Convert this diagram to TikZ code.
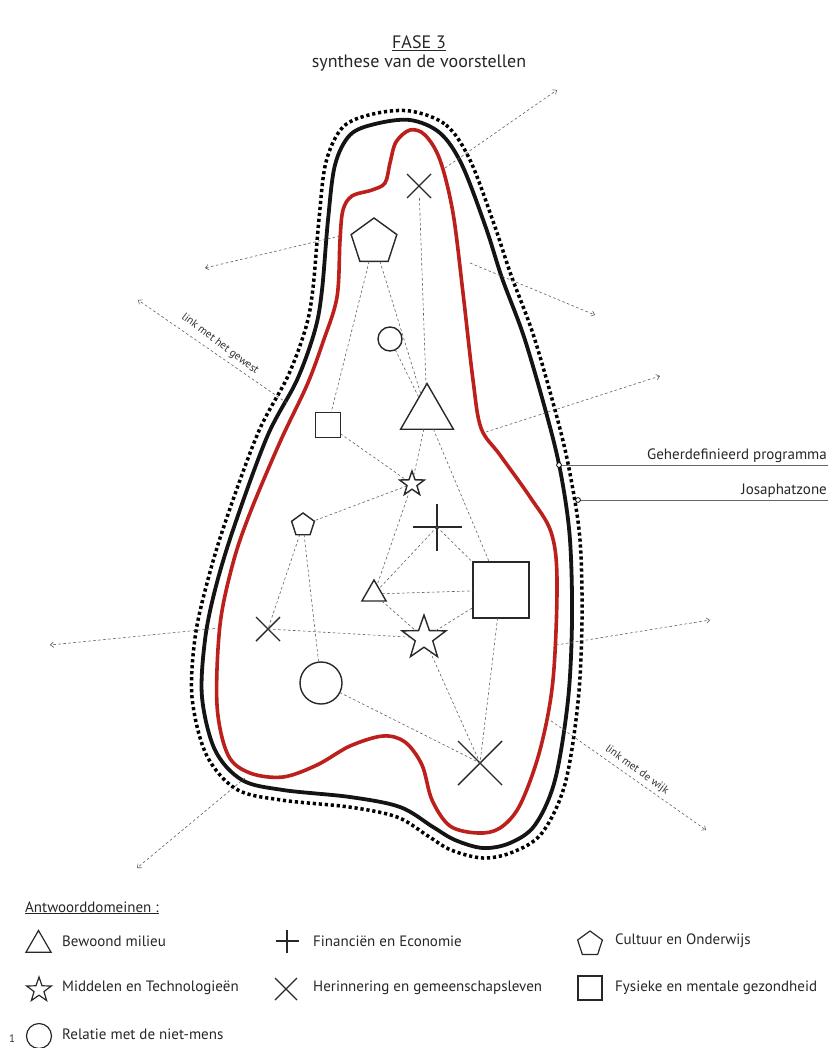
\documentclass[tikz,border=0pt]{standalone}
\usepackage{fontspec}
\setmainfont{PT Sans}
\usetikzlibrary{shapes.geometric,shapes.misc,arrows.meta}
\definecolor{myred}{RGB}{188,32,28}
\definecolor{symcol}{RGB}{40,40,40}
\definecolor{linkcol}{RGB}{95,95,95}
\begin{document}
\begin{tikzpicture}[x=1pt,y=-1pt,
  sym/.style={draw=symcol, line width=1.4pt, inner sep=0pt, outer sep=0pt},
  tri/.style={sym, regular polygon, regular polygon sides=3},
  pent/.style={sym, regular polygon, regular polygon sides=5},
  starsym/.style={sym, star, star points=5, star point ratio=2.5},
  sq/.style={sym, rectangle},
  circ/.style={sym, circle},
  xsym/.style={sym, cross out},
  plussym/.style={inner sep=0pt, outer sep=0pt},
  plusline/.style={draw=symcol, line width=1.4pt},
  link/.style={draw=linkcol, line width=0.6pt, dash pattern=on 2.6pt off 2.4pt},
  arr/.style={link, -{Straight Barb[length=3.2pt,width=5.5pt]}},
  blackline/.style={draw=black!92, line width=3.8pt},
  redline/.style={draw=myred, line width=3.6pt},
  dotline/.style={draw=black, line width=3.5pt, dash pattern=on 3.2pt off 2.8pt},
  lbl/.style={font=\fontsize{15}{17}\selectfont, text=black!85, inner sep=0pt},
  small/.style={font=\fontsize{11}{13}\selectfont, text=black!80, inner sep=0pt},
  legline/.style={draw=black!60, line width=0.8pt}
]
\useasboundingbox (0,0) rectangle (830,1048);

% title
\node[font=\fontsize{18}{20}\selectfont, text=black!85] (t1) at (419,43) {\underline{FASE 3}};
\node[font=\fontsize{18}{20}\selectfont, text=black!85] (t2) at (419,63) {synthese van de voorstellen};

% outlines
\draw[dotline] plot[smooth cycle, tension=0.55] coordinates {
(410,111) (446,125) (470,160) (494,224) (511,275) (534,337) (559,425) (571,479) (580,540) (582,620) (578,702) (565,784) (542,833) (513,852) (483,858) (451,850) (428,836) (397,817) (349,807) (281,800) (236,789) (206,754) (192,697) (195,638) (206,587) (224,526) (258,433) (288,376) (306,327) (313,288) (319,219) (326,162) (343,127) (373,114)};
\draw[blackline] plot[smooth cycle, tension=0.55] coordinates {
(410,120) (440,133) (462,165) (486,228) (502,278) (525,340) (550,427) (562,480) (570,540) (572,620) (568,700) (555,780) (535,825) (510,843) (483,848) (455,840) (433,827) (400,807) (350,797) (283,790) (242,780) (215,750) (202,697) (205,640) (215,590) (233,530) (267,437) (297,380) (315,330) (322,290) (328,220) (335,165) (350,135) (375,124)};
\draw[redline] plot[smooth cycle, tension=0.55] coordinates {
(410,130) (425,135) (440,160) (453,213) (463,293) (473,380) (481,428) (500,455) (530,497) (551,532) (557,580) (553,680) (540,750) (520,805) (500,828) (478,833) (450,826) (432,800) (422,765) (405,742) (383,736) (350,746) (317,765) (283,777) (250,773) (228,755) (217,705) (220,625) (233,563) (250,513) (280,442) (307,385) (323,342) (337,297) (340,240) (343,210) (352,196) (372,190) (385,183) (390,163) (396,142)};

% symbols
\node[xsym, minimum size=24pt] (X1) at (419,186) {};
\node[pent, minimum size=48pt] (PG1) at (374,242) {};
\node[circ, minimum size=24pt] (C1) at (390,339) {};
\node[tri, minimum size=61pt] (T1) at (427,414) {};
\node[sq, minimum size=25pt] (S1) at (328,425) {};
\node[starsym, minimum size=26pt] (ST1) at (412,484) {};
\node[pent, minimum size=24pt] (PG2) at (303,525) {};
\node[plussym, minimum width=49pt, minimum height=47pt] (P1) at (437,527) {};
\draw[plusline] (P1.north) -- (P1.south) (P1.west) -- (P1.east);
\node[tri, minimum size=28pt] (T2) at (374,594) {};
\node[sq, minimum size=56pt] (S2) at (501,590) {};
\node[xsym, minimum size=24pt] (X2) at (268,629) {};
\node[starsym, minimum size=46pt] (ST2) at (424,638) {};
\node[circ, minimum size=42pt] (C2) at (321,683) {};
\node[xsym, minimum size=44pt] (X3) at (480,763) {};

% connections
\draw[link] (X1) -- (T1);
\draw[link] (PG1) -- (S1);
\draw[link] (PG1) -- (T1);
\draw[link] (C1) -- (T1);
\draw[link] (S1) -- (ST1);
\draw[link] (T1) -- (ST1);
\draw[link] (T1) -- (S2);
\draw[link] (ST1) -- (PG2);
\draw[link] (ST1) -- (T2);
\draw[link] (P1.center) -- (T2);
\draw[link] (P1.center) -- (S2);
\draw[link] (T2) -- (S2);
\draw[link] (T2) -- (ST2);
\draw[link] (ST2) -- (S2);
\draw[link] (PG2) -- (X2.center);
\draw[link] (PG2) -- (C2);
\draw[link] (X2.center) -- (ST2);
\draw[link] (S2) -- (X3.center);
\draw[link] (ST2) -- (X3.center);
\draw[link] (C2) -- (X3.center);

% outward arrows
\coordinate (a1s) at (445,168); \coordinate (a1e) at (557,90);
\coordinate (a2s) at (340,236); \coordinate (a2e) at (205,268);
\coordinate (a3s) at (470,263); \coordinate (a3e) at (595,315);
\coordinate (a4s) at (287,403); \coordinate (a4e) at (138,300);
\coordinate (a5s) at (486,432); \coordinate (a5e) at (660,376);
\coordinate (a6s) at (220,628); \coordinate (a6e) at (50,645);
\coordinate (a7s) at (556,645); \coordinate (a7e) at (710,620);
\coordinate (a8s) at (547,718); \coordinate (a8e) at (706,830);
\coordinate (a9s) at (245,778); \coordinate (a9e) at (137,868);
\foreach \i in {1,...,9} {\draw[arr] (a\i s) -- (a\i e);}

\node[small, rotate=-37] (lg) at (220,344) {link met het gewest};
\node[small, rotate=-36] (lw) at (637,770) {link met de wijk};

% right labels
\coordinate (gpL) at (559,465); \coordinate (gpR) at (828,465);
\coordinate (jzL) at (578,500); \coordinate (jzR) at (828,500);
\draw[legline] (gpL) -- (gpR);
\draw[legline] (jzL) -- (jzR);
\draw[draw=black, line width=0.8pt, fill=white] (gpL) circle (2.4);
\draw[draw=black, line width=0.8pt, fill=white] (jzL) circle (2.4);
\node[lbl, anchor=base east] (gp) at (827,459) {Geherdefinieerd programma};
\node[lbl, anchor=base east] (jz) at (827,494) {Josaphatzone};

% legend
\node[lbl, anchor=base west] (leg) at (25,912) {\underline{Antwoorddomeinen :}};
\node[tri, minimum size=29pt, line width=1.2pt] (LT) at (38.5,945) {};
\node[lbl, anchor=west] (LTt) at (62,941) {Bewoond milieu};
\node[plussym, minimum size=23pt] (LP) at (287,941) {};
\draw[plusline, line width=1.2pt] (LP.north) -- (LP.south) (LP.west) -- (LP.east);
\node[lbl, anchor=west] (LPt) at (313,941) {Financiën en Economie};
\node[pent, minimum size=26pt, line width=1.2pt] (LPG) at (590,944) {};
\node[lbl, anchor=west] (LPGt) at (615,941) {Cultuur en Onderwijs};
\node[starsym, minimum size=26pt, line width=1.2pt] (LST) at (39,990) {};
\node[lbl, anchor=west] (LSTt) at (62,988) {Middelen en Technologieën};
\node[xsym, minimum size=22pt, line width=1.2pt] (LX) at (286,989) {};
\node[lbl, anchor=west] (LXt) at (313,988) {Herinnering en gemeenschapsleven};
\node[sq, minimum size=24pt, line width=1.2pt] (LS) at (590,988) {};
\node[lbl, anchor=west] (LSt) at (615,988) {Fysieke en mentale gezondheid};
\node[circ, minimum size=25pt, line width=1.2pt] (LC) at (39,1036) {};
\node[lbl, anchor=west] (LCt) at (62,1034) {Relatie met de niet-mens};
\node[small, font=\fontsize{11}{12}\selectfont] (pg) at (12,1039) {1};
\end{tikzpicture}
\end{document}
